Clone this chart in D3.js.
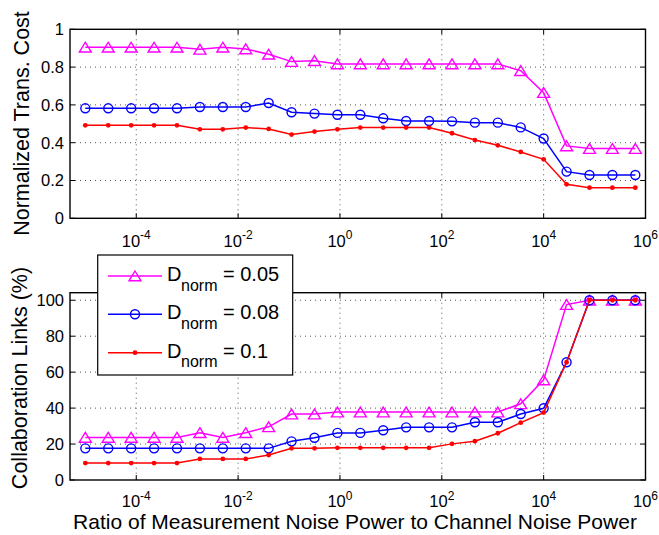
<!DOCTYPE html>
<html><head><meta charset="utf-8">
<script src="https://cdn.jsdelivr.net/npm/d3@7"></script>
<style>
body{margin:0;background:#fff;}
svg{display:block;}
text{font-family:"Liberation Sans",Arial,Helvetica,sans-serif;fill:#000;}
</style>
</head><body>
<svg id="c" width="659" height="535"></svg>
<script>
// ---------- data ----------
const xExponents = [-5, -4.55, -4.1, -3.65, -3.2, -2.75, -2.3, -1.85, -1.4, -0.95, -0.5, -0.05, 0.4, 0.85, 1.3, 1.75, 2.2, 2.65, 3.1, 3.55, 4, 4.45, 4.9, 5.35, 5.8];
const seriesLabels = ["0.05", "0.08", "0.1"];
const seriesColors = ["#ff00ff", "#0000ff", "#ff0000"];
const seriesMarkers = ["triangle", "circle", "dot"];

const costD005 = [0.905,0.905,0.905,0.905,0.905,0.894,0.905,0.896,0.868,0.829,0.834,0.817,0.817,0.817,0.817,0.817,0.817,0.817,0.817,0.781,0.665,0.383,0.369,0.369,0.369];
const costD008 = [0.582,0.582,0.582,0.582,0.582,0.589,0.589,0.589,0.610,0.561,0.554,0.548,0.548,0.529,0.515,0.515,0.513,0.506,0.506,0.481,0.422,0.247,0.229,0.229,0.229];
const costD010 = [0.492,0.492,0.492,0.492,0.492,0.471,0.471,0.480,0.473,0.443,0.459,0.471,0.480,0.480,0.480,0.480,0.450,0.414,0.386,0.351,0.312,0.180,0.162,0.162,0.162];

const linksD005 = [23.7,23.7,23.7,23.7,23.7,26.3,23.7,26.3,29.6,36.7,36.7,37.8,37.8,37.8,37.8,37.8,37.8,37.8,37.8,42.4,55.7,97.6,100,100,100];
const linksD008 = [17.6,17.6,17.6,17.6,17.6,17.6,17.6,17.6,17.6,21.5,23.5,26.2,26.2,27.7,29.3,29.3,29.3,32.1,32.1,36.7,39.9,65.5,100,100,100];
const linksD010 = [9.4,9.4,9.4,9.4,9.4,11.7,11.7,11.7,13.9,17.6,17.6,17.9,17.9,17.9,17.9,17.9,20.1,21.6,26.0,31.9,37.5,65.5,100,100,100];

const xTickExponents = [-4, -2, 0, 2, 4, 6];
const costTicks = [0, 0.2, 0.4, 0.6, 0.8, 1];
const costTickLabels = ["0", "0.2", "0.4", "0.6", "0.8", "1"];
const linkTicks = [0, 20, 40, 60, 80, 100];
const linkTickLabels = ["0", "20", "40", "60", "80", "100"];

const yLabelTop = "Normalized Trans. Cost";
const yLabelBottom = "Collaboration Links (%)";
const xLabel = "Ratio of Measurement Noise Power to Channel Noise Power";

// ---------- layout ----------
const svg = d3.select("#c");
const X0 = 70, X1 = 645.5;
const xs = xExponents.map(e => Math.pow(10, e));
const x = d3.scaleLog().domain([5e-6, 1e6]).range([X0, X1]);

function panel(cfg) {
  const y = d3.scaleLinear().domain(cfg.ydom).range([cfg.bot, cfg.top]);
  const g = svg.append("g");
  // grid
  const grid = g.append("g").attr("stroke", "#555").attr("stroke-width", 1).attr("stroke-dasharray", "1,4");
  xTickExponents.forEach(e => {
    const xv = x(Math.pow(10, e));
    if (xv < X1 - 1) grid.append("line").attr("x1", xv).attr("x2", xv).attr("y1", cfg.top).attr("y2", cfg.bot);
  });
  cfg.yticks.forEach(t => {
    const yv = y(t);
    if (yv > cfg.top + 1 && yv < cfg.bot - 1) grid.append("line").attr("x1", X0).attr("x2", X1).attr("y1", yv).attr("y2", yv);
  });
  // ticks (inward, all sides)
  const tk = g.append("g").attr("stroke", "#000").attr("stroke-width", 1);
  xTickExponents.forEach(e => {
    const xv = x(Math.pow(10, e));
    tk.append("line").attr("x1", xv).attr("x2", xv).attr("y1", cfg.bot).attr("y2", cfg.bot - 5);
    tk.append("line").attr("x1", xv).attr("x2", xv).attr("y1", cfg.top).attr("y2", cfg.top + 5);
  });
  cfg.yticks.forEach(t => {
    const yv = y(t);
    tk.append("line").attr("x1", X0).attr("x2", X0 + 5).attr("y1", yv).attr("y2", yv);
    tk.append("line").attr("x1", X1).attr("x2", X1 - 5).attr("y1", yv).attr("y2", yv);
  });
  // box
  g.append("rect").attr("x", X0).attr("y", cfg.top).attr("width", X1 - X0).attr("height", cfg.bot - cfg.top)
    .attr("fill", "none").attr("stroke", "#000").attr("stroke-width", 1.4);
  // y tick labels
  cfg.yticks.forEach((t, i) => {
    g.append("text").attr("x", 64).attr("y", y(t) + 5.8).attr("text-anchor", "end")
      .style("font-size", "16.5px").text(cfg.ylabels[i]);
  });
  // x tick labels
  xTickExponents.forEach(e => {
    const t = g.append("text").attr("x", x(Math.pow(10, e))).attr("y", cfg.xlabY)
      .attr("text-anchor", "middle").style("font-size", "16.5px");
    t.append("tspan").text("10");
    t.append("tspan").attr("dy", -7.5).style("font-size", "12px").text(String(e));
  });
  // y label
  g.append("text").attr("transform", `translate(${cfg.ylabX},${cfg.ylabCY}) rotate(-90)`)
    .attr("text-anchor", "middle").style("font-size", "21.5px").text(cfg.ytitle);
  // series
  const line = d3.line().x(d => x(d[0])).y(d => y(d[1]));
  cfg.series.forEach((vals, si) => {
    const pts = xs.map((xv, i) => [xv, vals[i]]);
    const sg = g.append("g");
    sg.append("path").attr("d", line(pts)).attr("fill", "none")
      .attr("stroke", seriesColors[si]).attr("stroke-width", 1.5);
    pts.forEach(p => drawMarker(sg, seriesMarkers[si], x(p[0]), y(p[1]), seriesColors[si]));
  });
}

function drawMarker(sel, type, cx, cy, col) {
  if (type === "triangle") {
    sel.append("path").attr("d", "M0,-5L6,4.8L-6,4.8Z").attr("transform", `translate(${cx},${cy})`)
      .attr("fill", "none").attr("stroke", col).attr("stroke-width", 1.4);
  } else if (type === "circle") {
    sel.append("circle").attr("cx", cx).attr("cy", cy).attr("r", 4.5)
      .attr("fill", "none").attr("stroke", col).attr("stroke-width", 1.4);
  } else {
    sel.append("circle").attr("cx", cx).attr("cy", cy).attr("r", 2.4).attr("fill", col);
  }
}

panel({ top: 29.3, bot: 218.3, ydom: [0, 1], yticks: costTicks, ylabels: costTickLabels,
        xlabY: 246.5, ylabX: 29, ylabCY: 123.5, ytitle: yLabelTop, series: [costD005, costD008, costD010] });
panel({ top: 292.7, bot: 480, ydom: [0, 104.2], yticks: linkTicks, ylabels: linkTickLabels,
        xlabY: 507, ylabX: 26.5, ylabCY: 378, ytitle: yLabelBottom, series: [linksD005, linksD008, linksD010] });

// x title
svg.append("text").attr("x", 355).attr("y", 529).attr("text-anchor", "middle")
  .style("font-size", "21px").text(xLabel);

// legend
const lg = svg.append("g");
lg.append("rect").attr("x", 97.7).attr("y", 255).attr("width", 195).attr("height", 120)
  .attr("fill", "#fff").attr("stroke", "#000").attr("stroke-width", 1.2);
const legY = [276, 314.3, 352.7];
seriesLabels.forEach((lab, i) => {
  const yy = legY[i];
  lg.append("line").attr("x1", 108).attr("x2", 162).attr("y1", yy).attr("y2", yy)
    .attr("stroke", seriesColors[i]).attr("stroke-width", 1.5);
  drawMarker(lg, seriesMarkers[i], 135, yy, seriesColors[i]);
  lg.append("text").attr("x", 167).attr("y", yy + 5).style("font-size", "20px").text("D");
  lg.append("text").attr("x", 181).attr("y", yy + 14.5).style("font-size", "16px").text("norm");
  lg.append("text").attr("x", 223).attr("y", yy + 5).style("font-size", "20px").text("= " + lab);
});
</script>
</body></html>
